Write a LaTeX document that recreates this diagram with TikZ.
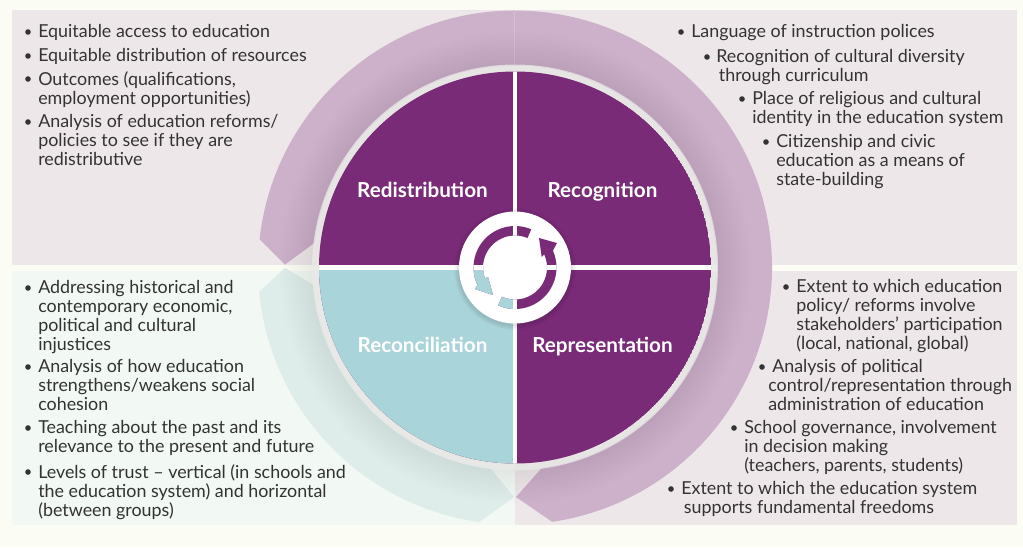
\documentclass[tikz,border=0pt]{standalone}
\usepackage{fontspec}
\setmainfont{Lato}
\definecolor{bgc}{HTML}{FBFCF4}
\definecolor{pnlp}{HTML}{EEE7E9}
\definecolor{pnlg}{HTML}{F2F8F3}
\definecolor{arcp}{HTML}{CDB1CA}
\definecolor{arct}{HTML}{DEEDEA}
\definecolor{dpur}{HTML}{7A2B78}
\definecolor{teal2}{HTML}{A9D4D9}
\definecolor{txt}{HTML}{333333}
\tikzset{
  body/.style={anchor=north west,inner sep=0pt,align=left,text=txt,font=\fontsize{13.4pt}{14.1pt}\selectfont},
  dotm/.style={circle,fill=txt,inner sep=0pt,minimum size=4.2pt},
  lab/.style={text=white,inner sep=0pt,anchor=base,font=\fontsize{15.5pt}{17pt}\selectfont\bfseries},
}
% name, bullet x, text x, first-line centre y, lines
\newcommand{\bitem}[5]{%
  \node[dotm] (#1d) at (#2,#4) {};
  \node[body] (#1) at (#3,#4-7.5) {#5};
}
\newcommand{\quads}{%
  \begin{scope}
  \clip (C) circle[radius=196];
  \fill[dpur] (C) circle[radius=196];
  \fill[teal2] (C) -- ++(-200,0) arc[start angle=180,end angle=90,radius=200] -- cycle;
  \fill[white] (512.7,60) rectangle (517.3,475);
  \fill[white] (310,265) rectangle (720,270);
  \end{scope}
}
\begin{document}
\begin{tikzpicture}[x=0.75pt,y=-0.75pt]
\useasboundingbox (0,0) rectangle (1023,547);
\fill[bgc] (0,0) rectangle (1023,547);
\coordinate (C) at (515,267.5);
% panels
\fill[pnlp] (12,10) rectangle (515,264.5);
\fill[pnlp] (515,10) rectangle (1017,264.5);
\fill[pnlg] (12,270.5) rectangle (515,525);
\fill[pnlp] (515,270.5) rectangle (1017,525);
% ring arrows
\fill[arct] (285,268) -- ([shift=(174.6:257)]C) arc[start angle=174.6,end angle=98,radius=257]
  -- (514,497) -- ([shift=(97.1:202)]C) arc[start angle=97.1,end angle=175,radius=202] -- cycle;
\fill[arcp] (285,264.5) -- ([shift=(186.3:257)]C) arc[start angle=186.3,end angle=441.7,radius=257]
  -- (516,497) -- ([shift=(82.3:202)]C) arc[start angle=442.3,end angle=187,radius=202] -- cycle;
\draw[white,opacity=.2,line width=.6pt] (514.5,10.5) -- (514.5,70);
% soft shadow round the disc
\foreach \r in {236,234,...,204}{\fill[black,opacity=.005] (C) circle[radius=\r];}
\fill[white!82!gray!85!bgc,opacity=.72] (C) circle[radius=203];
% disc
\quads
% hub
\foreach \r in {61,60,59,58,57}{\fill[black,opacity=.022] (515,269) circle[radius=\r];}
\fill[white] (C) circle[radius=56];
\begin{scope}
  \clip ([shift=(114:41.5)]C) arc[start angle=114,end angle=-24,radius=41.5]
     -- (557,243) -- (539,238) -- (541.7,257)
     -- ([shift=(-24:32)]C) arc[start angle=-24,end angle=114,radius=32] -- cycle;
  \quads
\end{scope}
\begin{scope}
  \clip ([shift=(155:41.5)]C) arc[start angle=155,end angle=293,radius=41.5]
     -- ([shift=(293:32)]C) arc[start angle=293,end angle=160,radius=32]
     -- (488,277) -- (493,295) -- (475,289) -- cycle;
  \quads
\end{scope}
% quadrant labels
\node[lab] (redis) at (422.5,197) {Redistribution};
\node[lab] (recog) at (602.5,197) {Recognition};
\node[lab] (recon) at (422.5,352) {Reconciliation};
\node[lab] (repre) at (602.5,352) {Representation};
% top left
\bitem{a1}{28}{38}{32}{Equitable access to education}
\bitem{a2}{28}{38}{56}{Equitable distribution of resources}
\bitem{a3}{28}{38}{79}{Outcomes (qualifications,\\employment opportunities)}
\bitem{a4}{28}{38}{122}{Analysis of education reforms/\\policies to see if they are\\redistributive}
% top right
\bitem{b1}{681}{691}{32}{Language of instruction polices}
\bitem{b2}{707}{716}{57}{Recognition of cultural diversity\\\hspace*{2pt}through curriculum}
\bitem{b3}{742}{752}{99}{Place of religious and cultural\\identity in the education system}
\bitem{b4}{766}{776}{142}{Citizenship and civic\\education as a means of\\state-building}
% bottom left
\bitem{c1}{28}{38}{288}{Addressing historical and\\contemporary economic,\\political and cultural\\injustices}
\bitem{c2}{28}{38}{367}{Analysis of how education\\strengthens/weakens social\\cohesion}
\bitem{c3}{28}{38}{428}{Teaching about the past and its\\relevance to the present and future}
\bitem{c4}{28}{38}{472}{Levels of trust – vertical (in schools and\\the education system) and horizontal\\(between groups)}
% bottom right
\bitem{d1}{786}{796}{287}{Extent to which education\\policy/ reforms involve\\stakeholders’ participation\\(local, national, global)}
\bitem{d2}{762}{768}{367}{\hspace*{3pt}Analysis of political\\control/representation through\\administration of education}
\bitem{d3}{734}{744}{428}{School governance, involvement\\in decision making\\(teachers, parents, students)}
\bitem{d4}{671}{681}{489}{Extent to which the education system\\\hspace*{2pt}supports fundamental freedoms}
\end{tikzpicture}
\end{document}
